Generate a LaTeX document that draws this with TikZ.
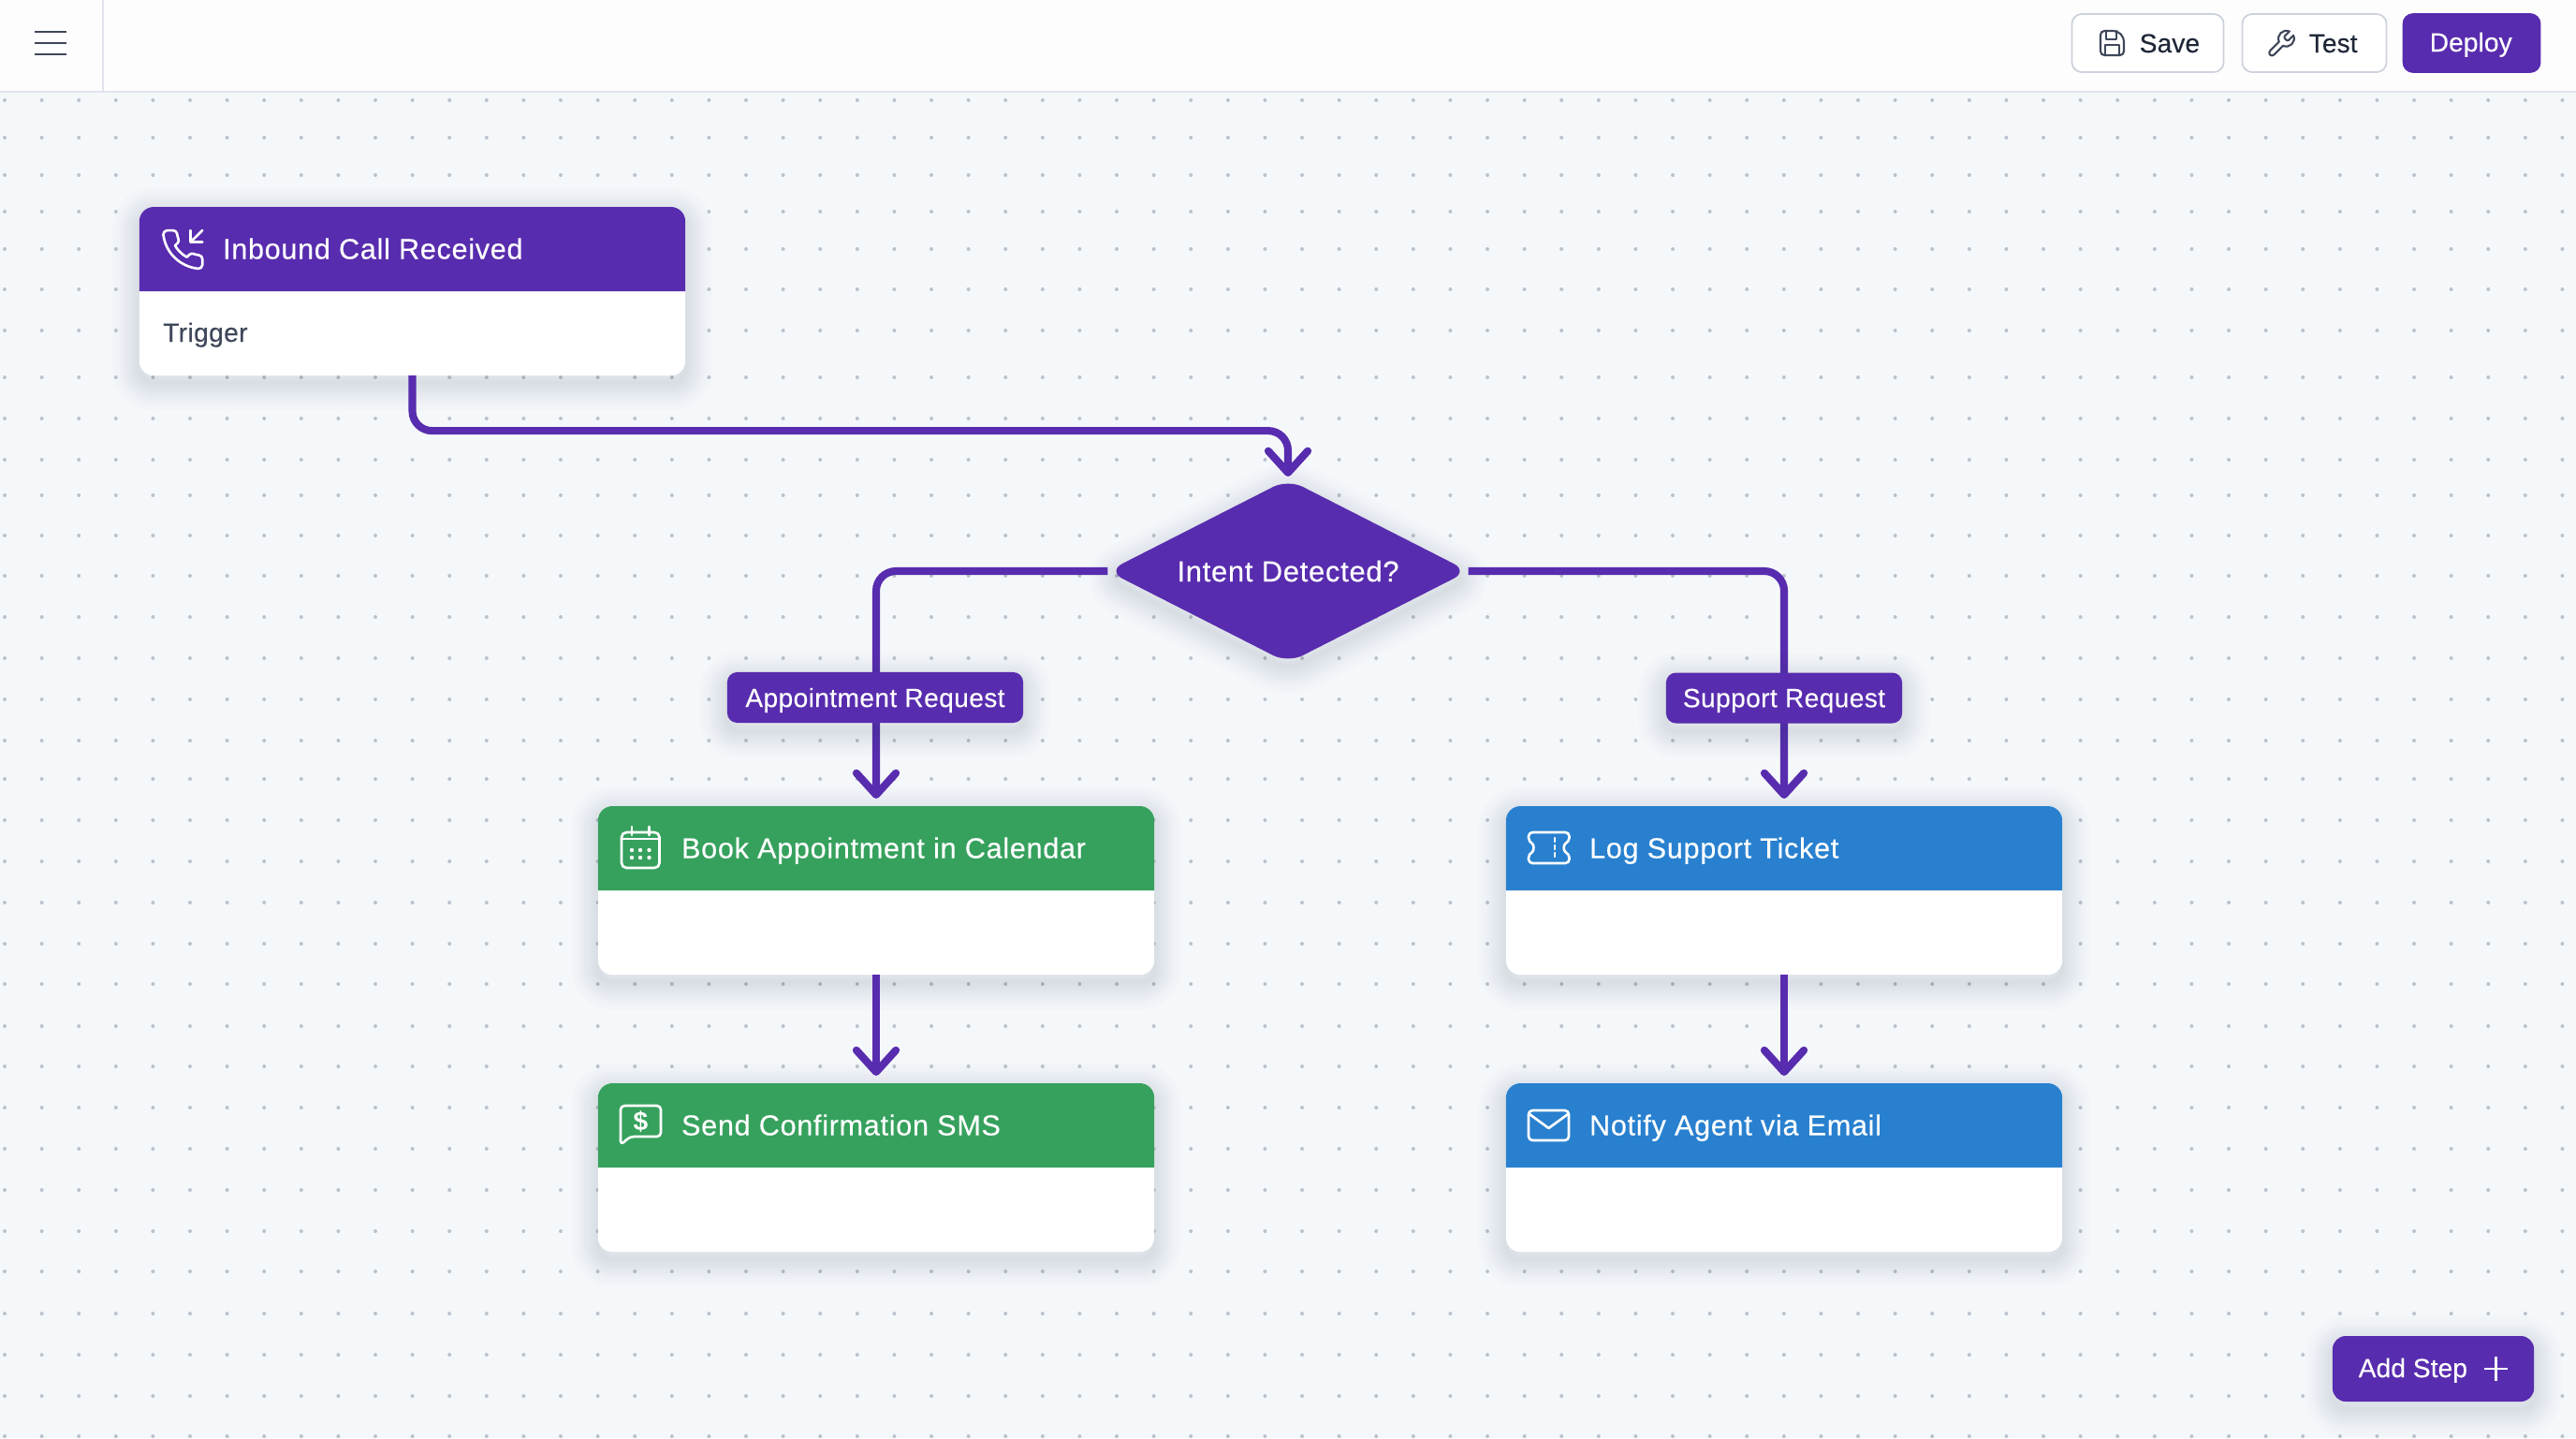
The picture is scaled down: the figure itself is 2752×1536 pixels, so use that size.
\documentclass[tikz,border=0pt]{standalone}
\usepackage{fontspec}
\setmainfont{Liberation Sans}
\newfontfamily\titlefont[FakeBold=0.3, LetterSpace=2.3]{Liberation Sans}
\newfontfamily\labelfont[FakeBold=0.15, LetterSpace=1.4]{Liberation Sans}
\newfontfamily\buttonfont[FakeBold=0.2, LetterSpace=0.3]{Liberation Sans}
\usetikzlibrary{shapes,shapes.geometric,shadows,arrows.meta}
\definecolor{canvas}{HTML}{F5F8FA}
\definecolor{griddot}{HTML}{BBC2CD}
\definecolor{topbar}{HTML}{FDFDFE}
\definecolor{barline}{HTML}{E1E5EC}
\definecolor{flowpurple}{HTML}{582CAE}
\definecolor{stepgreen}{HTML}{36A15D}
\definecolor{stepblue}{HTML}{2880CF}
\definecolor{inktext}{HTML}{1F2738}
\definecolor{softtext}{HTML}{3F475A}
\definecolor{btnline}{HTML}{CDD2DC}
\definecolor{shadowcol}{HTML}{3A4258}
\tikzset{
  shadowring/.style={general shadow={draw=shadowcol, draw opacity=0.011, line width=#1*0.01cm, shadow yshift=-0.08cm}},
  softshadow/.style={shadowring=4, shadowring=8, shadowring=12, shadowring=16, shadowring=20, shadowring=24, shadowring=30, shadowring=36, shadowring=42, shadowring=50, shadowring=58},
  card/.style={rectangle, rounded corners=4.4pt, fill=white, minimum height=1.8cm, inner sep=0, outer sep=0, softshadow, anchor=north},
  cardtitle/.style={text=white, font=\titlefont\fontsize{8.7pt}{10pt}\selectfont, inner sep=0, anchor=base west},
  flow/.style={draw=flowpurple, line width=2.3pt, rounded corners=6pt, -{Straight Barb[length=6.6pt,width=12pt,round]}},
  steplabel/.style={rectangle, rounded corners=3pt, fill=flowpurple, text=white, font=\labelfont\fontsize{8pt}{10pt}\selectfont, minimum height=0.54cm, inner sep=0, text depth=0pt, softshadow},
  toolbtn/.style={rectangle, rounded corners=3pt, draw=btnline, line width=0.5pt, fill=white, minimum height=0.62cm, inner sep=0},
  btntext/.style={text=inktext, font=\buttonfont\fontsize{8pt}{10pt}\selectfont, inner sep=0, anchor=base west},
  iconline/.style={draw=white, line width=0.75pt, line join=round, line cap=round},
  darkicon/.style={draw=softtext, line width=0.6pt, line join=round, line cap=round},
}
\begin{document}
\begin{tikzpicture}[x=0.01cm, y=-0.01cm]
      \useasboundingbox (0,0) rectangle (2752,1536);
      \fill[canvas] (0,0) rectangle (2752,1536);

      % Dotted canvas
      \foreach \y in {107,147,187,226,266,309,353,403,447,491,529,572,615,659,703,747,791,832,876,920,964,1008,1051,1096,1139,1183,1227,1271,1315,1358,1403,1447,1491,1534} {
        \foreach \k in {0, ..., 69} {
          \fill[griddot] (5 + 39.6*\k, \y) circle (2);
        }
      }

      % Top bar
      \fill[topbar] (0,0) rectangle (2752,98);
      \draw[barline, line width=0.6pt] (0,98) to (2752,98);
      \draw[barline, line width=0.5pt] (110,0) to (110,98);
      \foreach \y in {34, 46, 58} {
        \draw[softtext, line width=0.8pt] (37,\y) to (71,\y);
      }
      \node[toolbtn, minimum width=1.62cm] (save) at (2294.5,46) {};
      \node[toolbtn, minimum width=1.54cm] (test) at (2472.5,46) {};
      \node[toolbtn, minimum width=1.46cm, fill=flowpurple, draw=flowpurple] (deploy) at (2640.5,46) {};
      \node[btntext] (savetext) at (2285,56) {Save};
      \node[btntext] (testtext) at (2466,56) {Test};
      \node[btntext, text=white] (deploytext) at (2595,55) {Deploy};

      % Save icon
      \draw[darkicon, rounded corners=1.2pt] (2244,33) -- (2262,33) -- (2269,40) -- (2269,59) -- (2244,59) -- cycle;
      \draw[darkicon] (2250,33) -- (2250,42) -- (2261,42) -- (2261,33);
      \draw[darkicon] (2249,59) -- (2249,48) -- (2264,48) -- (2264,59);

      % Wrench icon
      \begin{scope}[shift={(2420,30)}, x=0.014cm, y=-0.014cm]
        \draw[darkicon] (14.7,6.3) .. controls (14.3,6.7) and (14.3,7.3) .. (14.7,7.7) -- (16.3,9.3)
          .. controls (16.7,9.7) and (17.3,9.7) .. (17.7,9.3) -- (21.47,5.53)
          .. controls (23.74,10.57) and (18.57,15.74) .. (13.53,13.47) -- (6.62,20.38)
          .. controls (5.8,21.2) and (4.4,21.2) .. (3.62,20.38)
          .. controls (2.8,19.6) and (2.8,18.2) .. (3.62,17.38) -- (10.53,10.47)
          .. controls (8.26,5.43) and (13.43,0.26) .. (18.47,2.53) -- cycle;
      \end{scope}

      % Steps
      \foreach \id/\cx/\cy/\cardw/\hue/\cardname in {
        inbound/440.5/221/5.83cm/flowpurple/Inbound Call Received,
        book/936/861/5.94cm/stepgreen/Book Appointment in Calendar,
        send/936/1157/5.94cm/stepgreen/Send Confirmation SMS,
        ticket/1906/861/5.94cm/stepblue/Log Support Ticket,
        notify/1906/1157/5.94cm/stepblue/Notify Agent via Email} {
        \node[card, minimum width=\cardw] (\id) at (\cx,\cy) {};
        \fill[\hue] (\id.west) [rounded corners=4.4pt] -- (\id.north west) -- (\id.north east) [sharp corners] -- (\id.east) -- cycle;
        \node[cardtitle] (\id title) at ([xshift=0.885cm, yshift=0.345cm]\id.west) {\cardname};
      }
      \node[cardtitle, text=softtext, font=\labelfont\fontsize{8pt}{10pt}\selectfont] (trigger) at (173.5,365) {Trigger};

      % Decision
      \node[diamond, aspect=2, rounded corners=5pt, fill=flowpurple, text=white, softshadow,
        minimum width=3.85cm, minimum height=1.96cm, inner sep=0, outer sep=0,
        font=\titlefont\fontsize{8.8pt}{10pt}\selectfont] (intent) at (1376,610) {Intent Detected?};

      % Connectors
      \draw[flow, shorten >=0.03cm] (inbound.south) -- ++(0,59) -| (intent.north);
      \draw[flow, shorten >=0.08cm] (intent.west) -| (book.north);
      \draw[flow, shorten >=0.08cm] (intent.east) -| (ticket.north);
      \draw[flow, shorten >=0.08cm] (book.south) -- (send.north);
      \draw[flow, shorten >=0.08cm] (ticket.south) -- (notify.north);

      % Branch labels
      \node[steplabel, minimum width=3.16cm] (applabel) at (935,745) {Appointment Request};
      \node[steplabel, minimum width=2.52cm] (suplabel) at (1906,745.5) {Support Request};

      % Phone icon
      \begin{scope}[shift={(170,242)}, x=0.021cm, y=-0.0205cm]
        \draw[iconline] (22,16.92) -- (22,19.92) .. controls (22,21.1) and (21,22.1) .. (19.82,21.92)
          .. controls (16.7,21.6) and (13.8,20.5) .. (11.19,18.85)
          .. controls (8.8,17.3) and (6.7,15.2) .. (5.19,12.85)
          .. controls (3.5,10.2) and (2.5,7.2) .. (2.12,4.18)
          .. controls (2,3) and (3,2) .. (4.11,2) -- (7.11,2)
          .. controls (8.1,2) and (9,2.7) .. (9.11,3.72)
          .. controls (9.2,4.7) and (9.5,5.6) .. (9.81,6.53)
          .. controls (10.1,7.3) and (9.9,8.1) .. (9.36,8.64) -- (8.09,9.91)
          .. controls (9.5,12.4) and (11.6,14.5) .. (14.09,15.91) -- (15.36,14.64)
          .. controls (15.9,14.1) and (16.7,13.9) .. (17.47,14.19)
          .. controls (18.4,14.5) and (19.3,14.8) .. (20.28,14.89)
          .. controls (21.3,15) and (22,15.9) .. (22,16.92) -- cycle;
        \draw[iconline] (16,2) -- (16,8) -- (22,8);
        \draw[iconline] (22,2) -- (16,8);
      \end{scope}

      % Calendar icon
      \draw[iconline, rounded corners=1.5pt] (664,889) rectangle (704.5,927);
      \draw[iconline] (664,896) to (704.5,896);
      \foreach \x in {675, 693.5} {
        \draw[iconline] (\x,883) to (\x,892);
      }
      \foreach \x in {675, 684, 693.5} {
        \fill[white] (\x,908) circle (2.2);
        \fill[white] (\x,916) circle (2.2);
      }

      % Message icon
      \draw[iconline, rounded corners=1.2pt] (663,1223) -- (663,1181) -- (706,1181) -- (706,1214) -- (673,1214) -- cycle;
      \node[text=white, font=\bfseries\fontsize{8pt}{8pt}\selectfont, inner sep=0] (dollar) at (684.5,1198) {\$};

      % Ticket icon
      \draw[iconline, rounded corners=1.2pt] (1633,889) -- (1676.5,889) -- (1676.5,899)
        .. controls (1670,902) and (1670,909) .. (1676.5,912) -- (1676.5,922) -- (1633,922) -- (1633,912)
        .. controls (1639,909) and (1639,902) .. (1633,899) -- cycle;
      \foreach \y in {897, 905, 913} {
        \draw[iconline] (1661,\y-2) to (1661,\y+2);
      }

      % Envelope icon
      \draw[iconline, rounded corners=1.2pt] (1633,1186) rectangle (1676,1218);
      \draw[iconline] (1634,1190) -- (1654.5,1205) -- (1675,1190);

      % Add step button
      \node[rectangle, rounded corners=4pt, fill=flowpurple, minimum width=2.15cm, minimum height=0.7cm, inner sep=0, softshadow] (addstep) at (2599.5,1462) {};
      \node[btntext, text=white] (addtext) at (2519,1471) {Add Step};
      \draw[white, line width=0.7pt] (2654,1462) to (2679,1462);
      \draw[white, line width=0.7pt] (2666.5,1449) to (2666.5,1475);
    \end{tikzpicture}
\end{document}
